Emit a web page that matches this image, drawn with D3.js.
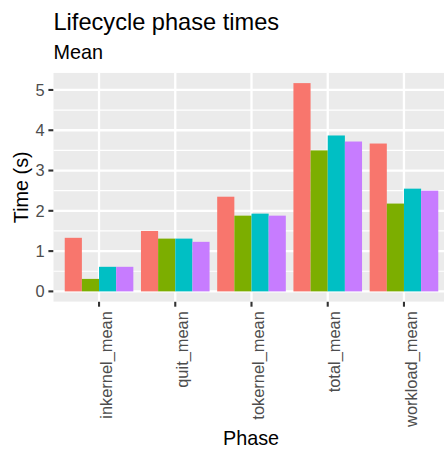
<!DOCTYPE html>
<html>
<head>
<meta charset="utf-8">
<script src="https://cdn.jsdelivr.net/npm/d3@7/dist/d3.min.js"></script>
<style>
  html, body { margin: 0; padding: 0; background: #fff; }
  svg { display: block; font-family: "Liberation Sans", Arial, sans-serif; }
</style>
</head>
<body>
<div id="chart"></div>
<script>
const phases = ["inkernel_mean", "quit_mean", "tokernel_mean", "total_mean", "workload_mean"];
const seriesNames = ["s1", "s2", "s3", "s4"];
const series1 = [1.33, 1.50, 2.35, 5.17, 3.67];
const series2 = [0.31, 1.31, 1.88, 3.50, 2.18];
const series3 = [0.61, 1.31, 1.93, 3.87, 2.55];
const series4 = [0.61, 1.23, 1.88, 3.72, 2.50];
const seriesColors = ["#F8766D", "#7CAE00", "#00BFC4", "#C77CFF"];
const yTicks = [0, 1, 2, 3, 4, 5];
const yMinor = [0.5, 1.5, 2.5, 3.5, 4.5];

const allSeries = [series1, series2, series3, series4];
const W = 444, H = 451;
const panel = { left: 53.3, right: 449.7, top: 72.7, bottom: 301.8 };

const svg = d3.select("#chart").append("svg")
  .attr("width", W).attr("height", H);

// ggplot discrete expansion: 0.6 units each side
const step = (panel.right - panel.left) / (phases.length - 1 + 1.2);
const xc = d3.scalePoint().domain(phases)
  .range([panel.left + 0.6 * step, panel.right - 0.6 * step]);
const sub = d3.scaleBand().domain(seriesNames).range([-0.45 * step, 0.45 * step]).padding(0);

const maxV = d3.max(allSeries.flat());
const y = d3.scaleLinear().domain([-0.05 * maxV, maxV * 1.05]).range([panel.bottom, panel.top]);

svg.append("defs").append("clipPath").attr("id", "pclip")
  .append("rect").attr("x", panel.left).attr("y", panel.top)
  .attr("width", panel.right - panel.left).attr("height", panel.bottom - panel.top);

const g = svg.append("g").attr("clip-path", "url(#pclip)");
g.append("rect").attr("x", panel.left).attr("y", panel.top)
  .attr("width", panel.right - panel.left).attr("height", panel.bottom - panel.top)
  .attr("fill", "#EBEBEB");

g.selectAll(".ymin").data(yMinor).enter().append("line")
  .attr("x1", panel.left).attr("x2", panel.right)
  .attr("y1", d => y(d)).attr("y2", d => y(d))
  .attr("stroke", "#fff").attr("stroke-width", 1.2);
g.selectAll(".ymaj").data(yTicks).enter().append("line")
  .attr("x1", panel.left).attr("x2", panel.right)
  .attr("y1", d => y(d)).attr("y2", d => y(d))
  .attr("stroke", "#fff").attr("stroke-width", 2.3);
g.selectAll(".xmaj").data(phases).enter().append("line")
  .attr("x1", d => xc(d)).attr("x2", d => xc(d))
  .attr("y1", panel.top).attr("y2", panel.bottom)
  .attr("stroke", "#fff").attr("stroke-width", 2.3);

seriesNames.forEach((s, si) => {
  g.selectAll(".bar" + si).data(phases).enter().append("rect")
    .attr("x", d => xc(d) + sub(s))
    .attr("width", sub.bandwidth())
    .attr("y", (d, i) => y(allSeries[si][i]))
    .attr("height", (d, i) => y(0) - y(allSeries[si][i]))
    .attr("fill", seriesColors[si]);
});

const tickFont = 16.4;
const yAxis = svg.append("g");
yTicks.forEach(t => {
  yAxis.append("line").attr("x1", panel.left - 4.9).attr("x2", panel.left)
    .attr("y1", y(t)).attr("y2", y(t)).attr("stroke", "#333333").attr("stroke-width", 2.1);
  yAxis.append("text").attr("x", panel.left - 4.9 - 3.9).attr("y", y(t))
    .attr("dy", "0.36em").attr("text-anchor", "end")
    .attr("font-size", tickFont).attr("fill", "#4D4D4D").text(d3.format("d")(t));
});

const xAxis = svg.append("g");
phases.forEach(p => {
  xAxis.append("line").attr("x1", xc(p)).attr("x2", xc(p))
    .attr("y1", panel.bottom).attr("y2", panel.bottom + 4.9)
    .attr("stroke", "#333333").attr("stroke-width", 2.1);
  xAxis.append("text")
    .attr("transform", `translate(${xc(p) + 12.6},${panel.bottom + 4.9 + 4.5}) rotate(-90)`)
    .attr("text-anchor", "end")
    .attr("font-size", tickFont).attr("fill", "#4D4D4D").text(p);
});

svg.append("text").attr("x", (panel.left + panel.right) / 2 - 0.5).attr("y", 445)
  .attr("text-anchor", "middle").attr("font-size", 19.8).attr("fill", "#000").text("Phase");
svg.append("text")
  .attr("transform", `translate(27.5,${(panel.top + panel.bottom) / 2}) rotate(-90)`)
  .attr("text-anchor", "middle").attr("font-size", 19.8).attr("fill", "#000").text("Time (s)");

svg.append("text").attr("x", 53.5).attr("y", 29.5)
  .attr("font-size", 23.6).attr("fill", "#000").text("Lifecycle phase times");
svg.append("text").attr("x", 53.5).attr("y", 58.5)
  .attr("font-size", 19.8).attr("fill", "#000").text("Mean");
</script>
</body>
</html>
